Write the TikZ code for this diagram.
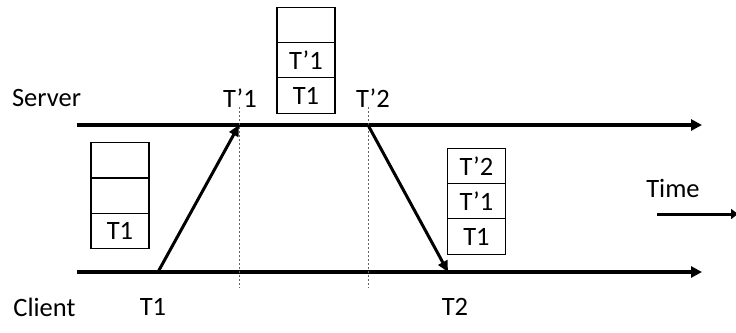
\documentclass[tikz,border=0pt]{standalone}
\usepackage{fontspec}
\setmainfont{Carlito}
\usetikzlibrary{positioning,arrows.meta}

\begin{document}
\begin{tikzpicture}[x=1pt,y=-1pt,
    cell/.style={draw,line width=1.2pt,outer sep=0pt,inner sep=0pt,
      minimum width=58pt,minimum height=35.3pt,font=\fontsize{26.5}{30}\selectfont},
    lbl/.style={font=\fontsize{26.5}{30}\selectfont},
    axis/.style={line width=3.2pt,-{Triangle[length=11pt,width=11pt]}},
    msg/.style={line width=3pt,-{Triangle[length=11pt,width=10pt]}},
    guide/.style={gray!80!black,line width=0.9pt,dash pattern=on 2pt off 2pt}]
\useasboundingbox (0,0) rectangle (736,332);
%The two time lines, server on top and client below
\coordinate (s0) at (77,125);
\coordinate (s1) at (702,125);
\coordinate (c0) at (77,272);
\coordinate (c1) at (702,272);
\draw[axis] (s0) -- (s1);
\draw[axis] (c0) -- (c1);
% the instants where a message leaves or arrives
\coordinate (cT1) at (158,272);
\coordinate (sT1) at (239,125);
\coordinate (sT2) at (368,125);
\coordinate (cT2) at (448,272);
\coordinate (g1top) at (239,107);
\coordinate (g1bot) at (239,288);
\coordinate (g2top) at (368,107);
\coordinate (g2bot) at (368,288);
\draw[guide] (g1top) -- (g1bot);
\draw[guide] (g2top) -- (g2bot);
\draw[msg] (cT1) -- (sT1);
\draw[msg] (sT2) -- (cT2);
%Stack of the client before sending
\node[cell] (l1) at (120,231) {T1};
\node[cell,above=0pt of l1] (l2) {};
\node[cell,above=0pt of l2] (l3) {};
%Stack on the server
\node[cell] (m1) at (306,95.5) {T1};
\node[cell,above=0pt of m1] (m2) {T’1};
\node[cell,above=0pt of m2] (m3) {};
%Stack of the client after the reply
\node[cell] (r1) at (476.5,236.5) {T1};
\node[cell,above=0pt of r1] (r2) {T’1};
\node[cell,above=0pt of r2] (r3) {T’2};
% labels
\node[lbl] (server) at (46.5,98) {Server};
\node[lbl] (client) at (44.5,307) {Client};
\node[lbl] (tp1) at (240,98) {T’1};
\node[lbl] (tp2) at (373,98) {T’2};
\node[lbl] (t1) at (153,307) {T1};
\node[lbl] (t2) at (455,307) {T2};
\node[lbl] (time) at (673,188) {Time};
\coordinate (tm0) at (657,214);
\coordinate (tm1) at (738,214);
\draw[line width=3pt,-{Triangle[length=7pt,width=10pt]}] (tm0) -- (tm1);
\end{tikzpicture}
\end{document}
